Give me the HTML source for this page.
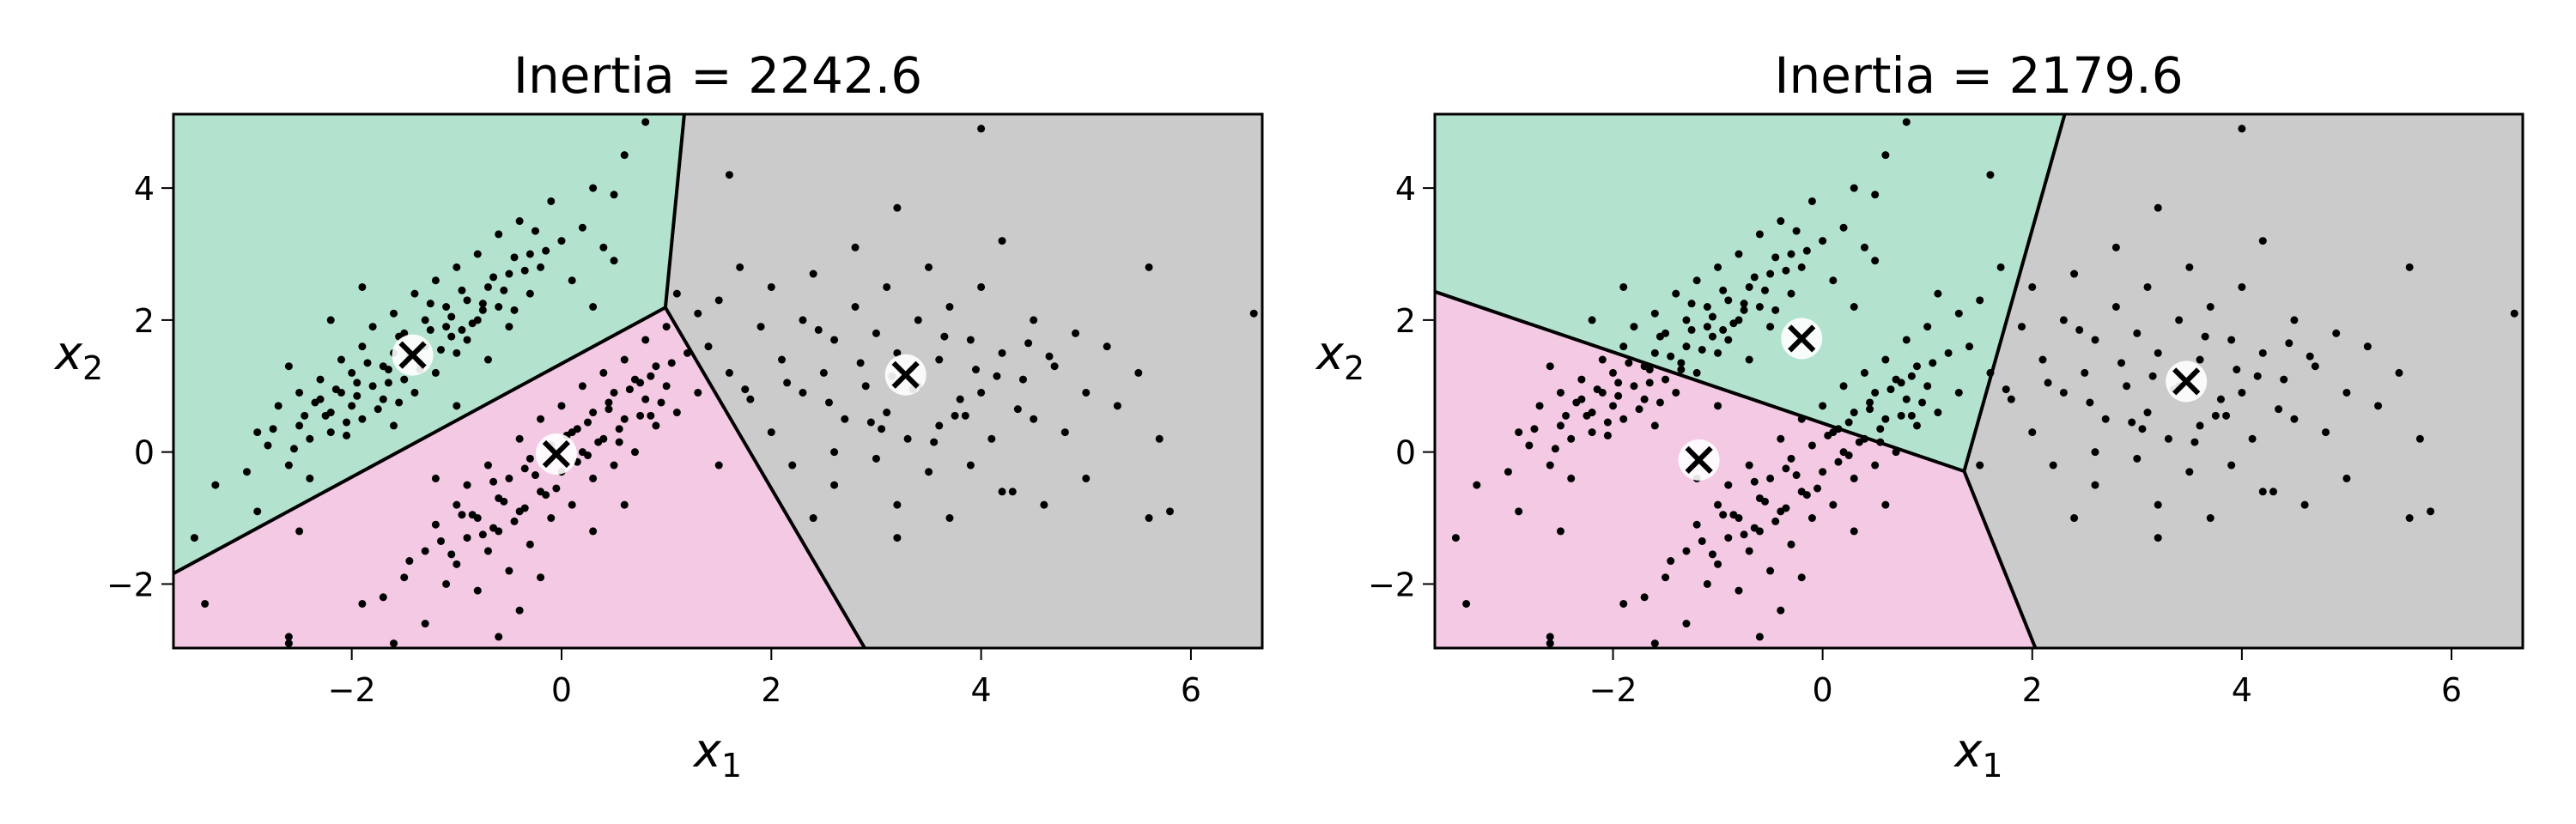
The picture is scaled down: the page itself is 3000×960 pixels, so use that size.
<!DOCTYPE html>
<html><head><meta charset="utf-8">
<style>
html,body{margin:0;padding:0;background:#fff;}
svg{display:block;}
text{font-family:"DejaVu Sans","Liberation Sans",sans-serif;fill:#000;}
</style></head>
<body>
<svg id="chart" width="3000" height="960" viewBox="0 0 3000 960" xmlns="http://www.w3.org/2000/svg"></svg>
<script>
// ---- data ----
const xTicks = [-2, 0, 2, 4, 6];
const yTicks = [-2, 0, 2, 4];
const xTickLabels = ["\u22122", "0", "2", "4", "6"];
const yTickLabels = ["\u22122", "0", "2", "4"];
const titles = ["Inertia = 2242.6", "Inertia = 2179.6"];
// cluster centroids per panel [x,y]
const centroidsLeft = [[-1.42, 1.47], [-0.05, -0.03], [3.28, 1.17]];
const centroidsRight = [[-0.2, 1.72], [-1.18, -0.12], [3.47, 1.07]];
// Voronoi boundary: junction point, top-edge x, left-edge y, bottom-edge x
const junctionLeft = [0.99, 2.19];
const topXLeft = 1.17, leftYLeft = -1.84, bottomXLeft = 2.89;
const junctionRight = [1.35, -0.29];
const topXRight = 2.31, leftYRight = 2.43, bottomXRight = 2.03;
// data points (x values, y values)
const ptsX = [
-3.3,-3.0,-2.9,-2.8,-2.7,-2.6,-2.5,-2.5,-2.4,-2.3,-2.3,-2.2,-2.2,-2.1,-2.1,-2.0,-2.0,-1.9,-1.9,-1.8,-1.8,-1.7,-1.7,-1.6,-1.6,-1.5,-1.5,-1.4,-1.4,-1.3,-1.3,-1.2,-1.2,-1.1,-1.1,-1.0,-1.0,-0.9,-0.9,-0.8,-0.8,-0.7,-0.7,-0.6,-0.6,-0.5,-0.5,-0.4,-0.3,-0.3,-0.2,-0.1,0.0,0.1,0.2,0.3,0.4,0.5,0.5,0.3,-2.6,-3.5,-2.9,-2.4,0.8,0.6,-1.9,-2.2,-1.0,-1.6,
-2.75,-2.45,-2.35,-2.15,-2.05,-1.95,-1.85,-1.75,-1.65,-1.55,-1.45,-1.35,-1.25,-1.15,-1.05,-0.95,-0.85,-0.75,-0.65,-0.55,-0.45,-0.35,-0.25,-0.15,-2.25,-1.95,-1.65,-1.35,-1.05,-0.75,-0.45,-2.55,-2.05,-1.55,-1.25,-0.95,
-2.6,-2.6,-1.9,-1.7,-1.6,-1.5,-1.3,-1.3,-1.2,-1.1,-1.0,-1.0,-0.9,-0.9,-0.8,-0.8,-0.7,-0.7,-0.6,-0.6,-0.5,-0.5,-0.4,-0.4,-0.3,-0.3,-0.2,-0.2,-0.1,-0.1,0.0,0.0,0.1,0.1,0.2,0.2,0.3,0.3,0.4,0.4,0.5,0.5,0.6,0.6,0.7,0.7,0.8,0.8,0.9,0.9,1.0,1.0,1.1,1.2,1.3,1.5,-0.4,-1.2,-0.6,0.3,-2.5,-3.4,-0.2,0.6,
-1.45,-1.15,-1.05,-0.85,-0.75,-0.55,-0.45,-0.25,-0.15,0.05,0.15,0.25,0.35,0.45,0.55,0.65,0.75,0.85,0.95,1.05,-0.65,-0.35,-0.05,0.25,0.55,0.85,-0.95,-0.65,-0.35,0.15,0.45,0.75,
1.1,1.3,1.4,1.5,1.6,1.7,1.8,1.9,2.0,2.0,2.1,2.2,2.3,2.3,2.4,2.5,2.6,2.6,2.7,2.8,2.8,2.9,3.0,3.0,3.1,3.1,3.2,3.2,3.3,3.4,3.4,3.5,3.5,3.6,3.6,3.7,3.7,3.8,3.9,3.9,4.0,4.0,4.1,4.2,4.2,4.3,4.4,4.5,4.5,4.6,4.7,4.8,4.9,5.0,5.0,5.2,5.3,5.5,5.6,5.7,5.6,5.8,6.6,4.0,3.2,1.6,2.4,3.2,4.2,2.6,
2.15,2.55,2.85,3.05,3.35,3.65,3.85,4.15,4.35,4.65,2.45,2.95,3.55,3.95,4.45,1.75,3.15,3.75];
const ptsY = [
-0.5,-0.3,0.3,0.1,0.7,-0.2,0.9,0.4,0.2,0.8,1.1,0.6,0.3,1.4,0.9,0.7,1.2,1.6,0.5,1.0,1.9,1.3,0.8,2.1,1.5,1.1,1.8,2.4,0.9,1.6,2.0,1.2,2.6,1.9,2.2,1.5,2.8,2.3,1.7,2.0,3.0,2.5,1.4,2.2,3.3,2.7,1.9,3.5,2.4,3.0,2.8,3.8,3.2,2.6,3.4,4.0,3.1,2.9,3.9,2.2,1.3,-1.3,-0.9,-0.4,5.0,4.5,2.5,2.0,0.7,0.4,
0.35,0.55,0.75,0.95,0.45,0.85,1.35,0.65,1.25,1.75,1.45,1.35,1.85,1.55,2.05,2.45,1.95,2.25,2.65,2.45,2.95,2.75,3.35,3.05,0.55,1.05,1.05,1.25,1.75,2.15,2.15,0.05,0.25,0.75,2.25,1.85,
-2.8,-2.9,-2.3,-2.2,-2.9,-1.9,-2.6,-1.5,-1.1,-2.0,-1.7,-0.8,-1.3,-0.5,-1.0,-2.1,-0.2,-1.5,-0.7,-1.2,-0.4,-1.8,0.2,-0.9,-0.1,-1.4,0.5,-0.6,0.1,-1.0,0.7,-0.3,0.3,-0.8,1.0,0.0,0.6,-0.4,1.2,0.2,0.9,-0.2,1.4,0.5,1.1,0.0,1.7,0.8,1.3,0.4,1.9,1.0,0.6,1.5,0.9,-0.2,-2.4,-0.4,-2.8,-1.2,-1.2,-2.3,-1.9,-0.8,
-1.65,-1.35,-1.55,-0.95,-1.25,-0.75,-1.05,-0.35,-0.65,0.25,-0.15,0.45,0.15,0.75,0.35,0.95,0.55,1.15,0.75,1.35,-0.45,-0.85,-0.55,-0.05,0.15,0.55,-0.95,-1.15,-0.25,0.35,0.65,1.05,
2.4,2.1,1.6,2.3,1.2,2.8,0.8,1.9,2.5,0.3,1.4,-0.2,2.0,0.9,2.7,1.2,-0.5,1.7,0.5,2.2,3.1,1.0,-0.1,1.8,0.6,2.5,1.5,-0.8,0.2,2.0,1.0,-0.3,2.8,1.4,0.4,2.2,-1.0,0.8,1.7,-0.2,2.5,0.9,0.2,1.5,3.2,-0.6,1.1,2.0,0.5,-0.8,1.3,0.3,1.8,0.9,-0.4,1.6,0.7,1.2,2.8,0.2,-1.0,-0.9,2.1,4.9,3.7,4.2,-1.0,-1.3,-0.6,0.0,
1.05,0.75,1.35,0.35,0.95,1.75,0.55,1.15,0.65,1.45,1.85,0.45,0.15,1.25,1.65,0.95,1.15,0.55];
// ---- layout ----
const XMIN = -3.70, XMAX = 6.68, YMIN = -2.97, YMAX = 5.12;
const panels = [
 {x0:202, x1:1470, title:titles[0], cents:centroidsLeft, j:junctionLeft, tx:topXLeft, ly:leftYLeft, bx:bottomXLeft},
 {x0:1671, x1:2938, title:titles[1], cents:centroidsRight, j:junctionRight, tx:topXRight, ly:leftYRight, bx:bottomXRight}
];
const Y0 = 133, Y1 = 755;
const NS = "http://www.w3.org/2000/svg";
const svg = document.getElementById('chart');
function mk(tag, attrs, parent){const e=document.createElementNS(NS,tag);for(const k in attrs)e.setAttribute(k,attrs[k]);(parent||svg).appendChild(e);return e;}

panels.forEach((p, pi) => {
  const sx = v => p.x0 + (v - XMIN) / (XMAX - XMIN) * (p.x1 - p.x0);
  const sy = v => Y1 - (v - YMIN) / (YMAX - YMIN) * (Y1 - Y0);
  const g = mk('g', {});
  
  
  const jx = sx(p.j[0]), jy = sy(p.j[1]);
  const green = mk('polygon', {points:`${p.x0},${Y0} ${sx(p.tx)},${Y0} ${jx},${jy} ${p.x0},${sy(p.ly)}`, fill:'#b3e3cf'}, g);
  
  
  const pink = mk('polygon', {points:`${p.x0},${sy(p.ly)} ${jx},${jy} ${sx(p.bx)},${Y1} ${p.x0},${Y1}`, fill:'#f3c9e3'}, g);
  
  
  const gray = mk('polygon', {points:`${sx(p.tx)},${Y0} ${p.x1},${Y0} ${p.x1},${Y1} ${sx(p.bx)},${Y1} ${jx},${jy}`, fill:'#cbcbcb'}, g);
  
  
  const bl = mk('polyline', {points:`${sx(p.tx)},${Y0} ${jx},${jy} ${sx(p.bx)},${Y1}`, fill:'none', stroke:'#000', 'stroke-width':4}, g);
  
  
  const bl2 = mk('line', {x1:p.x0, y1:sy(p.ly), x2:jx, y2:jy, stroke:'#000', 'stroke-width':4}, g);
  
  
  for (let i = 0; i < ptsX.length; i++) {
    const c = mk('circle', {cx:sx(ptsX[i]), cy:sy(ptsY[i]), r:4.5, fill:'#000'}, g);
    
    
  }
  p.cents.forEach(cn => {
    const cx = sx(cn[0]), cy = sy(cn[1]);
    const cg = mk('g', {}, g);
    
    
    mk('circle', {cx, cy, r:24, fill:'#fff', 'fill-opacity':0.9}, cg);
    const d = 14;
    mk('line', {x1:cx-d, y1:cy-d, x2:cx+d, y2:cy+d, stroke:'#000', 'stroke-width':6}, cg);
    mk('line', {x1:cx-d, y1:cy+d, x2:cx+d, y2:cy-d, stroke:'#000', 'stroke-width':6}, cg);
  });
  const fr = mk('rect', {x:p.x0, y:Y0, width:p.x1-p.x0, height:Y1-Y0, fill:'none', stroke:'#000', 'stroke-width':3}, g);
  
  
  xTicks.forEach((t, i) => {
    const x = sx(t);
    mk('line', {x1:x, y1:Y1, x2:x, y2:Y1+14, stroke:'#000', 'stroke-width':2}, g);
    const tl = mk('text', {x, y:817, 'font-size':38, 'text-anchor':'middle'}, g);
    tl.textContent = xTickLabels[i];
    
    
  });
  yTicks.forEach((t, i) => {
    const y = sy(t);
    mk('line', {x1:p.x0-14, y1:y, x2:p.x0, y2:y, stroke:'#000', 'stroke-width':2}, g);
    const tl = mk('text', {x:p.x0-22, y:y+14, 'font-size':38, 'text-anchor':'end'}, g);
    tl.textContent = yTickLabels[i];
    
    
  });
  const tt = mk('text', {x:(p.x0+p.x1)/2, y:108, 'font-size':58, 'text-anchor':'middle'}, g);
  tt.textContent = p.title;
  
  
  const xl = mk('text', {x:(p.x0+p.x1)/2, y:893, 'font-size':54, 'text-anchor':'middle', 'font-style':'italic'}, g);
  xl.innerHTML = 'x<tspan font-size="38" dy="12" font-style="normal">1</tspan>';
  
  
  const yl = mk('text', {x:p.x0-138, y:430, 'font-size':54, 'font-style':'italic'}, g);
  yl.innerHTML = 'x<tspan font-size="38" dy="12" font-style="normal">2</tspan>';
  
  
});
</script>
</body></html>
